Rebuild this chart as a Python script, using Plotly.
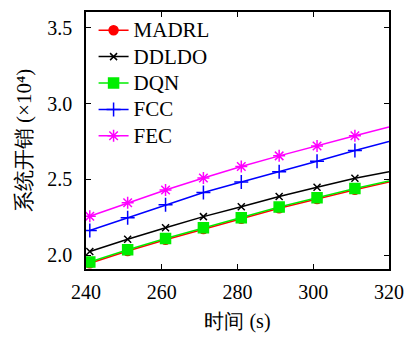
import plotly.graph_objects as go

# time (s): marker points every 10 s, line continues to the right edge (320)
x = [241, 251, 261, 271, 281, 291, 301, 311, 320]
madrl = [1.946, 2.027, 2.101, 2.172, 2.239, 2.309, 2.370, 2.431, 2.482]
ddldo = [2.024, 2.105, 2.180, 2.254, 2.319, 2.387, 2.448, 2.507, 2.550]
dqn = [1.954, 2.035, 2.109, 2.180, 2.247, 2.317, 2.378, 2.439, 2.490]
fcc = [2.162, 2.247, 2.332, 2.413, 2.483, 2.550, 2.620, 2.690, 2.750]
fec = [2.256, 2.345, 2.430, 2.509, 2.585, 2.655, 2.720, 2.788, 2.845]

xticks = [240, 260, 280, 300, 320]
yticks = [2.0, 2.5, 3.0, 3.5]

series = [
    ("MADRL", madrl, "#ff0000", "circle", 9),
    ("DDLDO", ddldo, "#000000", "x-thin-open", 7),
    ("DQN", dqn, "#00ee00", "square", 10),
    ("FCC", fcc, "#0000ff", "cross-thin-open", 10),
    ("FEC", fec, "#ff00ff", "asterisk-open", 10),
]

FONT = "Liberation Serif"

fig = go.Figure()
for name, ys, col, sym, sz in series:
    fig.add_trace(go.Scatter(
        x=x[-2:], y=ys[-2:], mode="lines", showlegend=False, hoverinfo="skip",
        line=dict(color=col, width=1.5),
    ))
    fig.add_trace(go.Scatter(
        x=x[:-1], y=ys[:-1], name='<span style="font-size:21px">' + name + '</span>',
        mode="lines+markers",
        line=dict(color=col, width=1.5),
        marker=dict(symbol=sym, size=sz, color=col,
                    line=dict(color=col, width=1.5)),
    ))

fig.update_xaxes(range=[240, 320], tickvals=xticks, tickformat="d",
                 showline=True, linecolor="black", linewidth=1.5, mirror="ticks",
                 ticks="inside", ticklen=5, tickcolor="black", ticklabelstandoff=4,
                 showgrid=False, zeroline=False,
                 tickfont=dict(family=FONT, size=20, color="black"),
                 title=dict(text="时间 (s)", standoff=12,
                            font=dict(family=FONT, size=20, color="black")))
fig.update_yaxes(range=[1.908, 3.605], tickvals=yticks, tickformat=".1f",
                 showline=True, linecolor="black", linewidth=1.5, mirror="ticks",
                 ticks="inside", ticklen=5, tickcolor="black", ticklabelstandoff=8,
                 showgrid=False, zeroline=False,
                 tickfont=dict(family=FONT, size=20, color="black"),
                 title=dict(text="系统开销 (×10⁴)", standoff=10,
                            font=dict(family=FONT, size=21, color="black")))

fig.update_layout(
    width=414, height=340,
    margin=dict(l=86, r=18, t=10, b=71),
    paper_bgcolor="white", plot_bgcolor="white",
    legend=dict(x=0.025, y=1.0, xanchor="left", yanchor="top",
                bgcolor="rgba(255,255,255,0)",
                font=dict(family=FONT, size=18, color="black"),
                tracegroupgap=0),
)

fig.write_html("out.html")
